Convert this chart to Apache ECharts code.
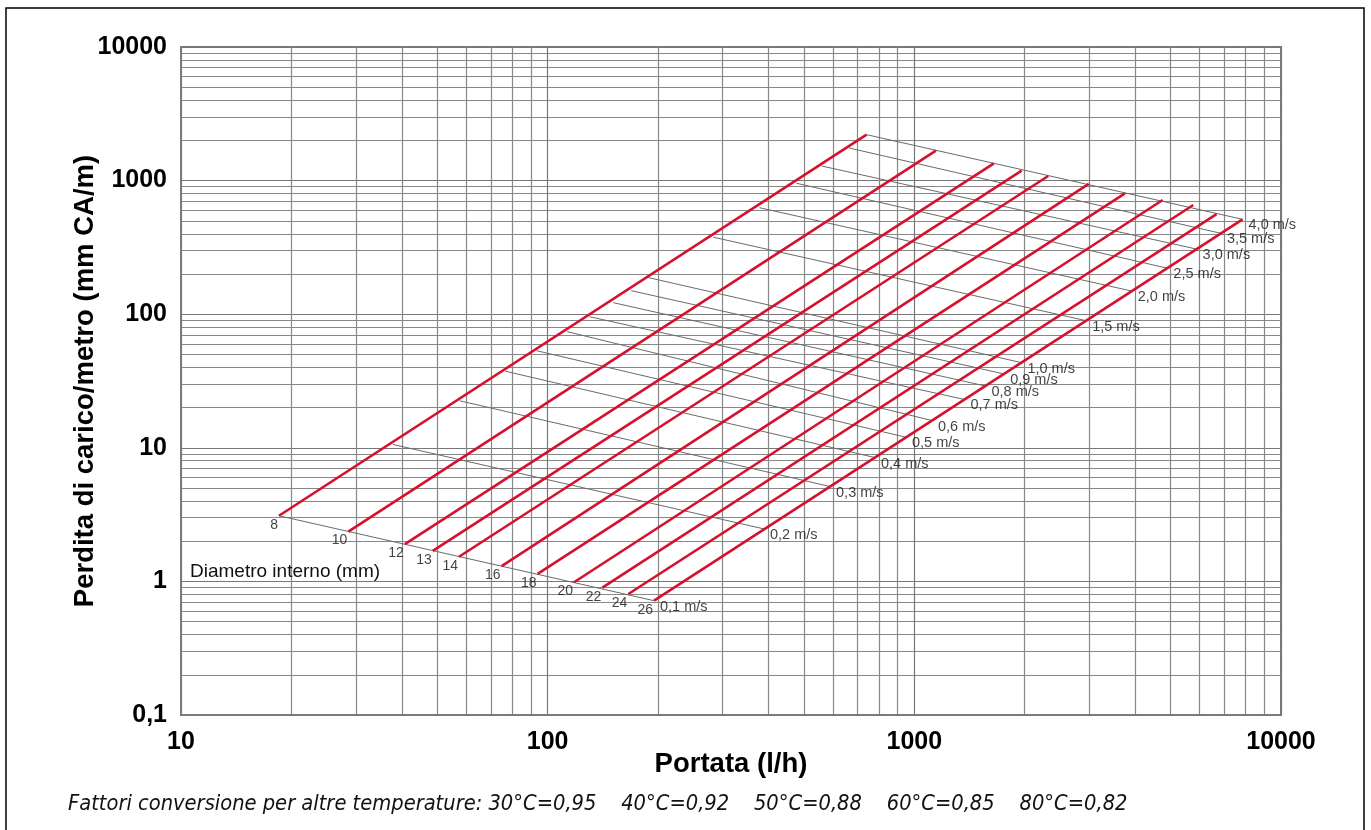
<!DOCTYPE html>
<html>
<head>
<meta charset="utf-8">
<script src="https://cdn.jsdelivr.net/npm/echarts@6/dist/echarts.min.js"></script>
<style>
  html, body { margin: 0; padding: 0; background: #fff; }
  #chart { width: 1371px; height: 830px; }
</style>
</head>
<body>
<div id="chart"></div>
<script>
// Internal diameters (mm) - one red line each
var diameters = ['8', '10', '12', '13', '14', '16', '18', '20', '22', '24', '26'];
// flow (l/h) and head loss (mm CA/m) at the 0,1 m/s end of each red line
var lowFlow = [18.5, 28.6, 40.8, 48.6, 57.3, 74.9, 93.9, 118, 141, 166, 195];
var lowLoss = [3.10, 2.36, 1.90, 1.69, 1.53, 1.30, 1.14, 0.985, 0.898, 0.805, 0.717];
// flow and head loss at the 4,0 m/s end of each red line
var highFlow = [741, 1145, 1648, 1962, 2318, 2990, 3753, 4756, 5764, 6671, 7855];
var highLoss = [2207, 1675, 1347, 1186, 1082, 944, 803, 716, 657, 562, 513];

// Velocity lines (grey): from the 8 mm line to the 26 mm line
var velocities = ['0,1', '0,2', '0,3', '0,4', '0,5', '0,6', '0,7', '0,8', '0,9', '1,0', '1,5', '2,0', '2,5', '3,0', '3,5', '4,0'];
var velLeftFlow = [18.5, 37.8, 57.5, 76.5, 93.3, 113, 130, 151, 169, 188, 283, 378, 477, 559, 664, 741];
var velLeftLoss = [3.10, 10.6, 22.5, 37.5, 53.3, 74.0, 95.8, 122, 150, 188, 377, 627, 955, 1286, 1754, 2207];
var velRightFlow = [195, 389, 589, 781, 949, 1117, 1370, 1563, 1758, 1959, 2942, 3917, 4899, 5886, 6857, 7855];
var velRightLoss = [0.717, 2.47, 5.13, 8.45, 12.0, 16.0, 23.0, 29.0, 35.7, 43.4, 89.4, 149, 221, 307, 403, 513];

var footerText = 'Fattori conversione per altre temperature: 30°C=0,95    40°C=0,92    50°C=0,88    60°C=0,85    80°C=0,82';
var diamTitle = 'Diametro interno (mm)';

var RED = '#d5112b';
var GREY_LINE = '#6a6a6a';
var SANS = "'Liberation Sans', Arial, sans-serif";
var NARROW = "'Liberation Sans Narrow', 'DejaVu Sans Condensed', 'Liberation Sans', Arial, sans-serif";

function fmt(v) { return String(v).replace('.', ','); }

var series = [];
for (var i = 0; i < diameters.length; i++) {
  series.push({
    type: 'line', name: 'd' + diameters[i], silent: true, animation: false,
    symbol: 'none', z: 4,
    lineStyle: { color: RED, width: 2.6 },
    data: [[highFlow[i], highLoss[i]], [lowFlow[i], lowLoss[i]]]
  });
}
for (var j = 0; j < velocities.length; j++) {
  series.push({
    type: 'line', name: 'v' + velocities[j], silent: true, animation: false,
    symbol: 'none', z: 3,
    lineStyle: { color: GREY_LINE, width: 1 },
    data: [[velLeftFlow[j], velLeftLoss[j]], [velRightFlow[j], velRightLoss[j]]]
  });
}
// diameter labels
series.push({
  type: 'scatter', silent: true, animation: false, z: 5,
  symbol: 'circle', symbolSize: 2,
  itemStyle: { color: 'rgba(0,0,0,0)' },
  label: {
    show: true, position: [0, 3], align: 'right', verticalAlign: 'top',
    fontFamily: SANS, fontSize: 14, color: '#111',
    formatter: function (p) { return diameters[p.dataIndex]; }
  },
  data: lowFlow.map(function (q, k) { return [q, lowLoss[k]]; })
});
// velocity labels
series.push({
  type: 'scatter', silent: true, animation: false, z: 5,
  symbol: 'circle', symbolSize: 2,
  itemStyle: { color: 'rgba(0,0,0,0)' },
  label: {
    show: true, position: [7, 7], align: 'left', verticalAlign: 'middle',
    fontFamily: SANS, fontSize: 14.5, color: '#111',
    formatter: function (p) { return velocities[p.dataIndex] + ' m/s'; }
  },
  data: velRightFlow.map(function (q, k) { return [q, velRightLoss[k]]; })
});

var chart = echarts.init(document.getElementById('chart'), null, { renderer: 'canvas' });
chart.setOption({
  animation: false,
  backgroundColor: '#ffffff',
  grid: {
    left: 181, right: 90, top: 47, bottom: 115,
    show: true, borderColor: '#7a7a7a', borderWidth: 2, containLabel: false
  },
  xAxis: {
    type: 'log', logBase: 10, min: 10, max: 10000,
    name: 'Portata (l/h)', nameLocation: 'middle', nameGap: 35, nameMoveOverlap: false,
    nameTextStyle: { fontFamily: SANS, fontSize: 27.5, fontWeight: 'bold', color: '#000' },
    axisLine: { show: true, lineStyle: { color: '#7a7a7a', width: 2 } },
    axisTick: { show: false },
    axisLabel: { fontFamily: SANS, fontSize: 25, fontWeight: 'bold', color: '#000', margin: 15, formatter: fmt },
    splitLine: { show: true, lineStyle: { color: '#777777', width: 1.2 } },
    minorTick: { show: false, splitNumber: 9 },
    minorSplitLine: { show: true, lineStyle: { color: '#888888', width: 1.2 } }
  },
  yAxis: {
    type: 'log', logBase: 10, min: 0.1, max: 10000,
    name: 'Perdita di carico/metro (mm CA/m)', nameLocation: 'middle', nameGap: 82, nameMoveOverlap: false,
    nameTextStyle: { fontFamily: SANS, fontSize: 27.5, fontWeight: 'bold', color: '#000' },
    axisLine: { show: true, lineStyle: { color: '#7a7a7a', width: 2 } },
    axisTick: { show: false },
    axisLabel: { fontFamily: SANS, fontSize: 25, fontWeight: 'bold', color: '#000', margin: 14, formatter: fmt },
    splitLine: { show: true, lineStyle: { color: '#777777', width: 1.2 } },
    minorTick: { show: false, splitNumber: 9 },
    minorSplitLine: { show: true, lineStyle: { color: '#888888', width: 1.2 } }
  },
  graphic: [
    { type: 'rect', z: 100, silent: true,
      shape: { x: 6, y: 8, width: 1358, height: 840 },
      style: { fill: null, stroke: '#000', lineWidth: 1.5 } },
    { type: 'text', left: 190, top: 562, z: 100, silent: true,
      style: { text: diamTitle, font: '19px ' + SANS, fill: '#111' } },
    { type: 'text', left: 68, top: 793, z: 100, silent: true,
      style: { text: footerText, font: 'italic 21.7px ' + NARROW, fill: '#111' } }
  ],
  series: series
});
</script>
</body>
</html>
